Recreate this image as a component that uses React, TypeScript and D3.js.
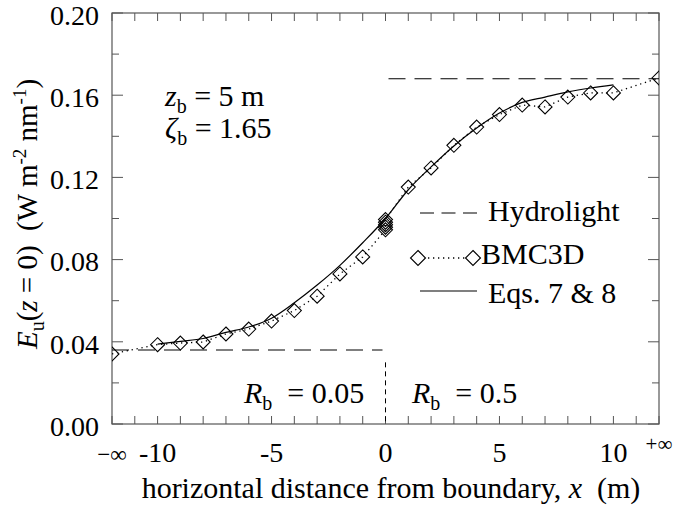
import React from 'react';
import * as d3 from 'd3';

// BMC3D Monte Carlo points (x in m, -12 = -inf, 12 = +inf)
const bmcX = [-12, -10, -9, -8, -7, -6, -5, -4, -3, -2, -1, 0, 0, 0, 0, 0, 1, 2, 3, 4, 5, 6, 7, 8, 9, 10, 12];
const bmcY = [0.0341, 0.0386, 0.0394, 0.0399, 0.0438, 0.0462, 0.0501, 0.0552, 0.0622, 0.0730, 0.0813,
  0.0945, 0.0958, 0.0970, 0.0982, 0.0995, 0.1153, 0.1246, 0.1356, 0.1445, 0.1506, 0.1552, 0.1543, 0.1591, 0.1611, 0.1611, 0.1684];

// Eqs. 7 & 8 curve
const eqX = [-10, -9, -8, -7, -6, -5, -4, -3, -2, -1, 0, 1, 2, 3, 4, 5, 6, 7, 8, 9, 10];
const eqY = [0.0389, 0.0402, 0.0416, 0.0446, 0.0472, 0.0515, 0.0590, 0.0676, 0.0772, 0.0882, 0.1000, 0.1140, 0.1251, 0.1353, 0.1440, 0.1513, 0.1565, 0.1591, 0.1616, 0.1635, 0.1650];

// Hydrolight asymptotes
const hydroX = [-12, 0, 12];
const hydroY = [0.036, 0.168];
const separatorTop = 0.03;

const yMinor = [0, 0.02, 0.04, 0.06, 0.08, 0.1, 0.12, 0.14, 0.16, 0.18, 0.2];
const yLabels = [0, 0.04, 0.08, 0.12, 0.16, 0.2];
const xTickVals = d3.range(-12, 13);
const xLabelVals = [-12, -10, -5, 0, 5, 10];
const xLabelText = ['−∞', '-10', '-5', '0', '5', '10'];

const FONT = "'Liberation Serif', 'Times New Roman', serif";

export default function App() {
  const L = 112, R = 659, T = 13, B = 424;
  const x = d3.scaleLinear().domain([-12, 12]).range([L, R]);
  const y = d3.scaleLinear().domain([0, 0.2]).range([B, T]);

  const bmcPts: [number, number][] = bmcX.map((v, i) => [x(v), y(bmcY[i])]);
  const dotted = d3.line().curve(d3.curveLinear)(bmcPts) || '';
  const eqPath = d3.line<number>().x((d, i) => x(eqX[i])).y(d => y(d)).curve(d3.curveMonotoneX)(eqY) || '';

  const diamond = (cx: number, cy: number, r = 7) =>
    `M${cx},${cy - r}L${cx + r},${cy}L${cx},${cy + r}L${cx - r},${cy}Z`;

  const stroke = '#000';
  const axisCol = '#555';
  const FS = 30;
  const SUB = 20;

  return (
    <svg width={677} height={508} style={{ position: 'absolute', left: 0, top: 0, background: '#fff' }}
      fontFamily={FONT}>
      <defs>
        <clipPath id="plotclip">
          <rect x={L} y={T} width={R - L} height={B - T} />
        </clipPath>
      </defs>
      <rect x={0} y={0} width={677} height={508} fill="#fff" />

      {/* frame */}
      <rect x={L} y={T} width={R - L} height={B - T} fill="none" stroke={axisCol} strokeWidth={1.2} />

      {/* y ticks left & right */}
      {yMinor.map((v, i) => {
        const major = yLabels.some(m => Math.abs(m - v) < 1e-9);
        const len = major ? 11 : 7;
        return (
          <g key={'yt' + i} stroke={axisCol} strokeWidth={1}>
            <line x1={L} x2={L + len} y1={y(v)} y2={y(v)} />
            <line x1={R} x2={R - len} y1={y(v)} y2={y(v)} />
          </g>
        );
      })}
      {/* x ticks bottom & top */}
      {xTickVals.map((v, i) => (
        <g key={'xt' + i} stroke={axisCol} strokeWidth={1}>
          <line x1={x(v)} x2={x(v)} y1={B} y2={B - 8} />
          <line x1={x(v)} x2={x(v)} y1={T} y2={T + 8} />
        </g>
      ))}

      {/* y tick labels */}
      {yLabels.map((v, i) => (
        <text key={'yl' + i} x={99} y={y(v)} dy="0.42em" textAnchor="end" fontSize={28}>
          {v.toFixed(2)}
        </text>
      ))}
      {/* x tick labels */}
      {xLabelVals.map((v, i) => (
        <text key={'xl' + i} x={x(v)} y={462} textAnchor="middle" fontSize={i === 0 ? 23 : 28}>
          {xLabelText[i]}
        </text>
      ))}
      <text x={x(12)} y={451} textAnchor="middle" fontSize={21}>+∞</text>

      {/* axis titles */}
      <text x={391} y={498} textAnchor="middle" fontSize={FS} style={{ whiteSpace: 'pre' }}>
        horizontal distance from boundary, <tspan fontStyle="italic">x</tspan>  (m)
      </text>
      <text transform="translate(37,214) rotate(-90)" textAnchor="middle" fontSize={29} style={{ whiteSpace: 'pre' }}>
        <tspan fontStyle="italic">E</tspan>
        <tspan fontSize={SUB} dy={7}>u</tspan>
        <tspan dy={-7}>(</tspan>
        <tspan fontStyle="italic">z</tspan>
        <tspan> = 0)  (W m</tspan>
        <tspan fontSize={19} dy={-11}>-2</tspan>
        <tspan dy={11}> nm</tspan>
        <tspan fontSize={19} dy={-11}>-1</tspan>
        <tspan dy={11}>)</tspan>
      </text>

      {/* annotations */}
      <text x={165} y={106} fontSize={FS}>
        <tspan fontStyle="italic">z</tspan>
        <tspan fontSize={SUB} dy={7}>b</tspan>
        <tspan dy={-7}> = 5 m</tspan>
      </text>
      <text x={165} y={138} fontSize={FS}>
        <tspan fontStyle="italic">ζ</tspan>
        <tspan fontSize={SUB} dy={7}>b</tspan>
        <tspan dy={-7}> = 1.65</tspan>
      </text>
      <text x={244} y={403} fontSize={FS} style={{ whiteSpace: 'pre' }}>
        <tspan fontStyle="italic">R</tspan>
        <tspan fontSize={SUB} dy={7}>b</tspan>
        <tspan dy={-7}>  = 0.05</tspan>
      </text>
      <text x={412} y={403} fontSize={FS} style={{ whiteSpace: 'pre' }}>
        <tspan fontStyle="italic">R</tspan>
        <tspan fontSize={SUB} dy={7}>b</tspan>
        <tspan dy={-7}>  = 0.5</tspan>
      </text>

      <g clipPath="url(#plotclip)">
        {/* Hydrolight */}
        <line x1={x(hydroX[0])} x2={x(hydroX[1]) - 3} y1={y(hydroY[0])} y2={y(hydroY[0])}
          stroke={stroke} strokeWidth={1.2} strokeDasharray="17,9" />
        <line x1={x(hydroX[1]) + 3} x2={x(hydroX[2])} y1={y(hydroY[1])} y2={y(hydroY[1])}
          stroke={stroke} strokeWidth={1.2} strokeDasharray="17,9" />
        <line x1={x(0)} x2={x(0)} y1={y(separatorTop)} y2={y(0)}
          stroke={stroke} strokeWidth={1} strokeDasharray="5,4" />

        {/* Eqs 7 & 8 */}
        <path d={eqPath} fill="none" stroke={stroke} strokeWidth={1.2} />

        {/* BMC3D */}
        <path d={dotted} fill="none" stroke={stroke} strokeWidth={1.3} strokeDasharray="1.3,3.7" />
        {bmcPts.map((p, i) => (
          <path key={'d' + i} d={diamond(p[0], p[1])} fill="none" stroke={stroke} strokeWidth={1.1} />
        ))}
      </g>

      {/* legend */}
      <line x1={420} x2={477} y1={213} y2={213} stroke={stroke} strokeWidth={1.2} strokeDasharray="14,7.5" />
      <text x={488} y={221} fontSize={FS}>Hydrolight</text>
      <line x1={418} x2={473} y1={258} y2={258} stroke={stroke} strokeWidth={1.3} strokeDasharray="1.3,3.7" />
      <path d={diamond(418, 258, 7.5)} fill="#fff" stroke={stroke} strokeWidth={1.1} />
      <path d={diamond(473, 258, 7.5)} fill="#fff" stroke={stroke} strokeWidth={1.1} />
      <text x={481} y={264} fontSize={FS}>BMC3D</text>
      <line x1={420} x2={477} y1={291} y2={291} stroke={stroke} strokeWidth={1.1} />
      <text x={488} y={303} fontSize={FS}>Eqs. 7 &amp; 8</text>
    </svg>
  );
}
